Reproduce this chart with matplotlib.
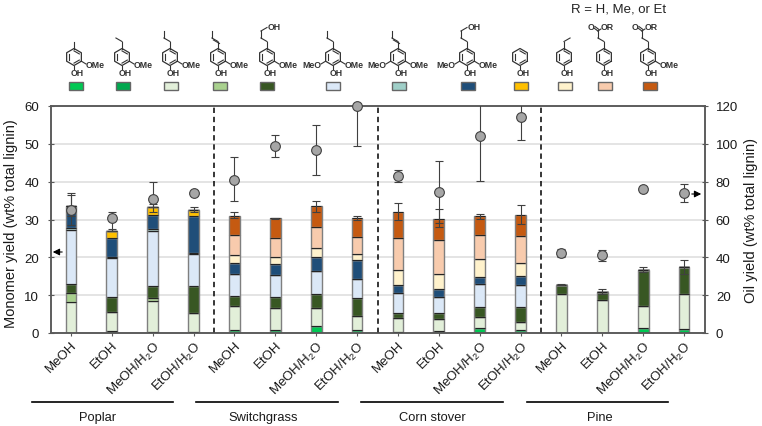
import numpy as np
import matplotlib
matplotlib.use("Agg")
import matplotlib.pyplot as plt
from matplotlib.patches import Rectangle

plt.rcParams["font.family"] = ["Liberation Sans", "DejaVu Sans"]
plt.rcParams["mathtext.default"] = "regular"

W, H = 762, 427

# chart data, segment heights bottom to top (wt% total lignin)
solvents = ["MeOH", "EtOH", "MeOH/H$_2$O", "EtOH/H$_2$O"] * 4
groups = ["Poplar", "Switchgrass", "Corn stover", "Pine"]

methyl_guaiacol = [0, 0.4, 0.3, 0.3, 0.8, 0.7, 1.8, 0.8, 0.3, 0.6, 1.4, 0.9, 0.1, 0.1, 1.2, 1.0]
ethyl_guaiacol = [0] * 16
propyl_guaiacol = [8.2, 5.1, 8.2, 5.0, 6.4, 6.0, 4.9, 3.8, 3.6, 3.1, 2.8, 2.0, 10.3, 8.5, 6.0, 9.3]
propenyl_guaiacol = [2.5, 0, 0.7, 0, 0, 0, 0, 0, 0, 0, 0, 0, 0, 0, 0, 0]
propanol_guaiacol = [2.3, 4.0, 3.3, 7.2, 2.5, 2.9, 3.5, 4.6, 1.4, 1.5, 2.6, 4.1, 2.4, 2.3, 9.4, 7.2]
propyl_syringol = [14.2, 10.2, 14.5, 8.3, 5.9, 5.6, 6.3, 5.1, 5.4, 4.3, 6.2, 5.6, 0, 0, 0, 0]
propenyl_syringol = [0.5, 0.3, 0.5, 0.3, 0, 0, 0, 0, 0, 0, 0, 0, 0, 0, 0, 0]
propanol_syringol = [5.8, 5.0, 3.6, 9.9, 2.9, 3.0, 3.5, 5.0, 1.9, 2.1, 1.9, 2.4, 0, 0, 0, 0]
phenol = [0, 1.9, 2.3, 1.5, 0, 0, 0, 0, 0, 0, 0, 0, 0, 0, 0, 0]
ethyl_phenol = [0, 0, 0, 0, 2.0, 1.8, 2.5, 1.7, 4.1, 4.1, 4.6, 3.4, 0, 0, 0, 0]
coumarate = [0, 0, 0, 0, 5.5, 5.0, 5.5, 4.4, 8.5, 8.8, 6.5, 7.3, 0, 0, 0, 0]
ferulate = [0.1, 0, 0, 0, 5.0, 5.3, 5.5, 5.0, 6.8, 5.7, 4.8, 5.6, 0, 0, 0, 0]

monomer_hi = [37.0, 27.5, 34.2, 33.2, 32.0, 30.5, 35.0, 31.0, 34.3, 32.9, 31.5, 33.8, 12.9, 11.6, 17.4, 19.2]
monomer_lo = [31.0, 27.0, 33.4, 32.0, 30.3, 30.1, 32.0, 30.0, 30.0, 28.0, 30.2, 28.7, 12.7, 10.2, 16.0, 15.5]

# oil yield (wt% total lignin)
oil = [65, 60.6, 71, 73.8, 81, 99, 97, 120, 82.8, 74.5, 104, 114, 42.3, 41, 76, 74]
oil_hi = [73, 64, 80, 73.8, 93.2, 104.8, 110, 135, 86, 90.8, 130, 130, 44.6, 44, 76, 79]
oil_lo = [57, 54, 64, 73.8, 69.8, 93, 83.6, 98.6, 79.8, 58, 80.4, 102, 40, 38, 76, 69]

yield_ticks = [0, 10, 20, 30, 40, 50, 60]
oil_ticks = [0, 20, 40, 60, 80, 100, 120]

series = [methyl_guaiacol, ethyl_guaiacol, propyl_guaiacol, propenyl_guaiacol,
          propanol_guaiacol, propyl_syringol, propenyl_syringol, propanol_syringol,
          phenol, ethyl_phenol, coumarate, ferulate]
colors = ["#00c853", "#00a84f", "#e2efd9", "#a9d18e", "#385723", "#dbe8f7",
          "#9fcfc8", "#1f4e79", "#ffc000", "#fff2cc", "#f8cbad", "#c55a11"]

GRAY = "#595959"
TEXT = "#1a1a1a"

fig = plt.figure(figsize=(W / 100, H / 100), dpi=100)
ax = fig.add_axes([50.5 / W, 1 - 334 / H, 654 / W, 227 / H])
x = np.arange(16)

# stacked bars
ax.set_axisbelow(True)
ax.yaxis.grid(True, color="#dcdcdc", lw=1.1)
bottom = np.zeros(16)
for vals, c in zip(series, colors):
    vals = np.array(vals, dtype=float)
    ax.bar(x, vals, 0.26, bottom=bottom, color=c, edgecolor="#7f7f7f", lw=1.0, zorder=2)
    top = bottom + vals
    ax.hlines(top[vals > 0], x[vals > 0] - 0.12, x[vals > 0] + 0.12, color="#222222", lw=0.7, zorder=3)
    bottom = top

totals = bottom
ax.errorbar(x, totals, yerr=[np.maximum(totals - monomer_lo, 0), np.maximum(np.array(monomer_hi) - totals, 0)],
            fmt="none", ecolor="#404040", elinewidth=0.8, capsize=2.6, capthick=0.8, zorder=4)

# section dividers
for d in [3.5, 7.5, 11.5]:
    ax.axvline(d, color="black", lw=1.1, ls=(0, (3.5, 2.5)), zorder=4)

ax.set_xlim(-0.5, 15.5)
ax.set_ylim(0, 60)
ax.set_yticks(yield_ticks)
ax.set_xticks(x)
ax.set_xticklabels(solvents, rotation=45, ha="right", rotation_mode="anchor", fontsize=9.5, color=TEXT)
ax.tick_params(axis="x", color=GRAY, length=2.2, width=0.8, pad=2)
ax.tick_params(axis="y", direction="inout", color=GRAY, length=4.3, width=0.8, labelsize=9.5, labelcolor=TEXT, pad=6)
ax.set_ylabel("Monomer yield (wt% total lignin)", fontsize=10.5, color=TEXT)
ax.yaxis.set_label_coords(-32 / 654, 0.488)

# oil yield on second axis
ax2 = ax.twinx()
ax2.set_ylim(0, 120)
ax2.set_yticks(oil_ticks)
ax2.errorbar(x, oil, yerr=[np.array(oil) - oil_lo, np.array(oil_hi) - oil],
             fmt="none", ecolor="#404040", elinewidth=0.8, capsize=2.6, capthick=0.8, zorder=5)
ax2.plot(x, oil, "o", ms=7, mfc="#a6a6a6", mec="#404040", mew=0.8, clip_on=False, zorder=6)
ax2.tick_params(axis="y", direction="inout", color=GRAY, length=4.3, width=0.8, labelsize=9.5, labelcolor=TEXT, pad=6)
ax2.set_ylabel("Oil yield (wt% total lignin)", fontsize=10.5, rotation=90, color=TEXT)
ax2.yaxis.set_label_coords(1 + 40 / 654, 0.5)
for a in [ax, ax2]:
    for s in a.spines.values():
        s.set_color(GRAY)
        s.set_linewidth(1.1)

# overlay in pixel coords for arrows, group rules and the structures
ov = fig.add_axes([0, 0, 1, 1], zorder=10)
ov.set_xlim(0, W)
ov.set_ylim(H, 0)
ov.axis("off")
ov.patch.set_alpha(0)

ov.annotate("", xy=(50, 253), xytext=(65, 253), arrowprops=dict(arrowstyle="-|>", color="black", lw=0.8))
ov.annotate("", xy=(704, 195), xytext=(689, 195), arrowprops=dict(arrowstyle="-|>", color="black", lw=0.8))

group_lines = [(32, 173), (196, 338), (361, 503), (527, 668)]
group_x = [98, 263, 432, 600]
for (a, b), gx, g in zip(group_lines, group_x, groups):
    ov.plot([a, b], [403, 403], color="black", lw=1.2)
    ov.text(gx, 418, g, ha="center", va="center", fontsize=9.3, color=TEXT)

ov.text(619, 9, "R = H, Me, or Et", ha="center", va="center", fontsize=9.5, color="#222222")

# structure icons
R = 8.5
BOND = 7
U, UL, UR = (0, -1), (-0.866, -0.5), (0.866, -0.5)
INK = "#333333"


def draw_chain(cx, steps, double=None):
    px, py = cx, 58 - R
    for i, (dx, dy) in enumerate(steps):
        nx, ny = px + dx * BOND, py + dy * BOND
        ov.plot([px, nx], [py, ny], color=INK, lw=0.8)
        if double == i:
            ov.plot([px + 1.5, nx + 1.5], [py + 2, ny + 2], color=INK, lw=0.8)
        px, py = nx, ny
    return px, py


def draw_ring(cx, cy=58):
    ang = np.radians(np.arange(30, 391, 60))
    vx, vy = cx + R * np.cos(ang), cy + R * np.sin(ang)
    ov.plot(vx, vy, color=INK, lw=0.9)
    for i in [0, 2, 4]:
        ov.plot(cx + 0.72 * R * np.cos(ang[i:i + 2]), cy + 0.72 * R * np.sin(ang[i:i + 2]), color=INK, lw=0.8)


def label(tx, ty, s, ha="center"):
    ov.text(tx, ty, s, ha=ha, va="center", fontsize=6.3, fontweight="bold", color=INK)


def draw_mol(cx, steps=(), double=None, ome=False, meo=False, end=None):
    draw_ring(cx)
    ov.plot([cx, cx], [58 + R, 58 + R + 3], color=INK, lw=0.8)
    label(cx + 3, 73.5, "OH")
    if ome:
        ov.plot([cx + 7.4, cx + 12], [62.2, 65], color=INK, lw=0.8)
        label(cx + 12, 66, "OMe", "left")
    if meo:
        ov.plot([cx - 7.4, cx - 12], [62.2, 65], color=INK, lw=0.8)
        label(cx - 12, 66, "MeO", "right")
    px, py = draw_chain(cx, steps, double)
    if end == "OH":
        label(px + 1, py - 1, "OH", "left")
    if end == "ester":
        ov.plot([px, px - 4], [py, py - 3], color=INK, lw=0.8)
        ov.plot([px + 1, px - 3], [py - 1.5, py - 4.5], color=INK, lw=0.8)
        ov.plot([px, px + 3], [py, py - 2], color=INK, lw=0.8)
        label(px - 6.5, py - 4, "O")
        label(px + 3, py - 4, "OR", "left")


mol_x = [74, 122, 170, 218, 267, 333, 398, 467, 520, 564, 604, 648]
swatch_x = [76, 122.7, 171, 220, 267, 333, 399, 468, 521, 565, 605, 650]
chains = [
    dict(steps=[U], ome=True),
    dict(steps=[U, UL], ome=True),
    dict(steps=[U, UL, U], ome=True),
    dict(steps=[U, UL, U], double=1, ome=True),
    dict(steps=[U, UL, U, UR], ome=True, end="OH"),
    dict(steps=[U, UL, U], ome=True, meo=True),
    dict(steps=[U, UL, U], double=1, ome=True, meo=True),
    dict(steps=[U, UL, U, UR], ome=True, meo=True, end="OH"),
    dict(),
    dict(steps=[U, UR]),
    dict(steps=[U, UL, U], end="ester"),
    dict(steps=[U, UL, U], ome=True, end="ester"),
]
for mx, sx, ch, c in zip(mol_x, swatch_x, chains, colors):
    draw_mol(mx, **ch)
    ov.add_patch(Rectangle((sx - 7, 82.5), 14, 8.5, fc=c, ec="#666666", lw=1))

fig.savefig("out.png", dpi=100)
